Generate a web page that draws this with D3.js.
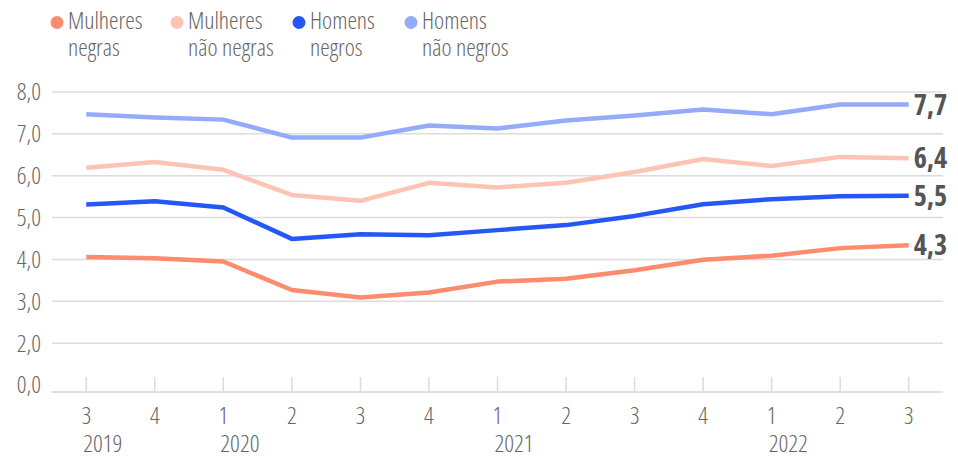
<!DOCTYPE html>
<html><head><meta charset="utf-8">
<script src="https://cdn.jsdelivr.net/npm/d3@7"></script>
<style>
html,body{margin:0;padding:0;background:#fff;}
svg text{font-family:"Open Sans",sans-serif;font-stretch:75%;font-weight:300;fill:#666;}
</style></head><body>
<svg id="chart" width="958" height="459"></svg>
<script>
const quarters = ["3","4","1","2","3","4","1","2","3","4","1","2","3"];
const years = [{i:0,label:"2019"},{i:2,label:"2020"},{i:6,label:"2021"},{i:10,label:"2022"}];
const yTicks = [1,2,3,4,5,6,7,8];
const yTickLabels = ["0,0","2,0","3,0","4,0","5,0","6,0","7,0","8,0"];
const seriesNames = ["Mulheres negras","Mulheres não negras","Homens negros","Homens não negros"];
const legendLines = [["Mulheres","negras"],["Mulheres","não negras"],["Homens","negros"],["Homens","não negros"]];
const colors = ["#fd8b6e","#fdc4b4","#2457f5","#93abfa"];
const mulheresNegras    = [4.06,4.03,3.95,3.27,3.09,3.21,3.47,3.54,3.74,3.99,4.09,4.27,4.34];
const mulheresNaoNegras = [6.19,6.33,6.14,5.54,5.40,5.83,5.72,5.83,6.09,6.40,6.23,6.45,6.42];
const homensNegros      = [5.31,5.39,5.24,4.49,4.60,4.58,4.70,4.82,5.04,5.32,5.44,5.51,5.52];
const homensNaoNegros   = [7.47,7.39,7.34,6.91,6.91,7.20,7.13,7.32,7.44,7.58,7.47,7.70,7.70];
const endLabels = ["4,3","6,4","5,5","7,7"];
const allSeries = [mulheresNegras,mulheresNaoNegras,homensNegros,homensNaoNegros];

const svg = d3.select("#chart");
const x = d3.scaleBand().domain(d3.range(quarters.length)).range([52,943]);
const y = d3.scaleLinear().domain([1,8]).range([385,92]);
const baseY = 392;

// gridlines
svg.append("g").selectAll("line").data(yTicks.filter(d=>d>1)).join("line")
  .attr("x1",52).attr("x2",943).attr("y1",d=>y(d)).attr("y2",d=>y(d))
  .attr("stroke","#dcdcdc").attr("stroke-width",1.5);
// baseline
svg.append("line").attr("x1",52).attr("x2",943).attr("y1",baseY).attr("y2",baseY)
  .attr("stroke","#d6d6d6").attr("stroke-width",1.5);
// x ticks
svg.append("g").selectAll("line").data(d3.range(quarters.length)).join("line")
  .attr("x1",d=>x(d)+x.bandwidth()/2).attr("x2",d=>x(d)+x.bandwidth()/2)
  .attr("y1",377).attr("y2",baseY).attr("stroke","#dcdcdc").attr("stroke-width",1.5);
// y labels
svg.append("g").selectAll("text").data(yTicks).join("text")
  .attr("x",41).attr("y",d=>y(d)).attr("dy","0.35em").attr("text-anchor","end")
  .attr("font-size",24).text((d,i)=>yTickLabels[i]);
// x labels
svg.append("g").selectAll("text").data(quarters).join("text")
  .attr("x",(d,i)=>x(i)+x.bandwidth()/2).attr("y",424).attr("text-anchor","middle")
  .attr("font-size",24).text(d=>d);
svg.append("g").selectAll("text").data(years).join("text")
  .attr("x",d=>x(d.i)+x.bandwidth()/2-3).attr("y",452).attr("text-anchor","start")
  .attr("font-size",24).text(d=>d.label);

// lines
const line = d3.line().x((d,i)=>x(i)+x.bandwidth()/2).y(d=>y(d));
svg.append("g").selectAll("path").data(allSeries).join("path")
  .attr("d",line).attr("fill","none").attr("stroke",(d,i)=>colors[i])
  .attr("stroke-width",4.5).attr("stroke-linejoin","round");

// end labels
svg.append("g").selectAll("text").data(allSeries).join("text")
  .attr("x",x(quarters.length-1)+x.bandwidth()/2+5)
  .attr("y",d=>y(d[d.length-1])).attr("dy","0.36em")
  .attr("font-size",28).style("font-weight",700).style("fill","#555")
  .text((d,i)=>endLabels[i]);

// legend
const legX = [57,177,299,411];
const lg = svg.append("g").selectAll("g").data(seriesNames).join("g")
  .attr("transform",(d,i)=>`translate(${legX[i]},0)`);
lg.append("circle").attr("cx",0).attr("cy",22.5).attr("r",6.5).attr("fill",(d,i)=>colors[i]);
const lt = lg.append("text").attr("font-size",24);
lt.append("tspan").attr("x",11).attr("y",29).text((d,i)=>legendLines[i][0]);
lt.append("tspan").attr("x",11).attr("y",56).text((d,i)=>legendLines[i][1]);
</script>
</body></html>
